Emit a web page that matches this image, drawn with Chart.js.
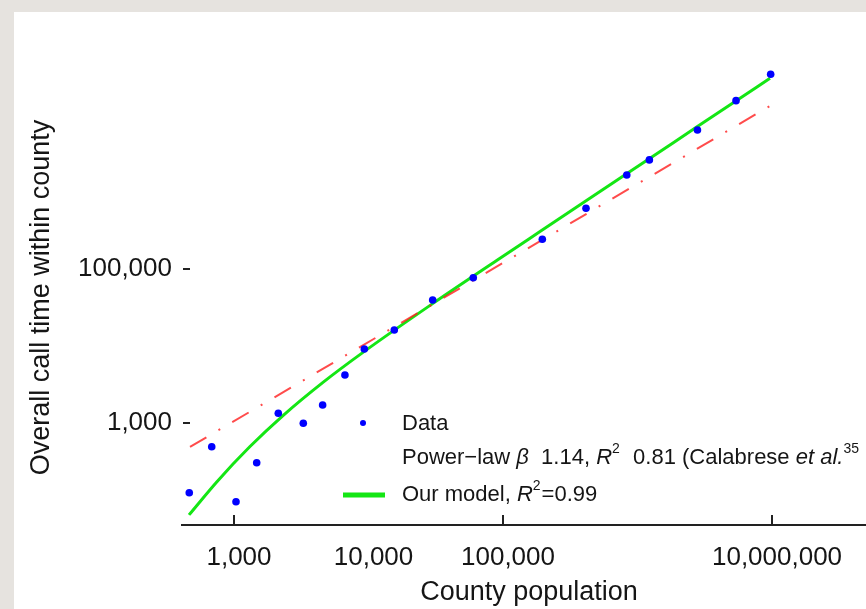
<!DOCTYPE html>
<html lang="en">
    <head>
        <meta charset="UTF-8">
        <title>County population vs overall call time</title>
        <script src="https://cdn.jsdelivr.net/npm/chart.js"></script>
        <style>
            html, body {
                margin: 0;
                width: 866px;
                height: 609px;
                overflow: hidden;
                background: #e6e3df;
            }
            .panel {
                position: absolute;
                left: 14px;
                top: 12px;
                width: 880px;
                height: 597px;
                background: white;
            }
        </style>
    </head>
    <body>
        <div class="panel">
            <canvas id="callChart" width="880" height="597"></canvas>
        </div>
        <script>
            // values (log-log axes)
            const dataPop = [465, 683, 1035, 1475, 2135, 3275, 4560, 6680, 9310, 15550, 30000, 60100,
                196000, 414000, 832000, 1225000, 2790000, 5400000, 9770000];
            const dataCall = [124, 492, 95, 305, 1337, 991, 1713, 4200, 9140, 16150, 39500, 77100,
                243000, 614000, 1660000, 2610000, 6380000, 15350000, 33800000];

            const modelPop = [463, 747, 1315, 2314, 4588, 9101, 30170, 90250, 188400, 835500, 2770000, 9660000];
            const modelCall = [64, 173, 494, 1248, 3368, 8260, 35740, 129700, 306000, 1734000, 7010000, 30060000];

            const powerPop = [471, 9660000];
            const powerCall = [488, 13100000];

            const xTicks = [1000, 10000, 100000, 10000000];
            const xTickMarks = [1000, 100000, 10000000];
            const yTicks = [1000, 100000];

            const xTitle = 'County population';
            const yTitle = 'Overall call time within county';

            // legend rows: [text, style] where style i = italic, s = superscript
            const legendRows = [
                [['Data']],
                [['Power\u2212law '], ['\u03b2', 'i'], ['  1.14, '], ['R', 'i'], ['2', 's'], ['  0.81 (Calabrese '], ['et al.', 'i'], ['35', 's']],
                [['Our model, '], ['R', 'i'], ['2', 's'], ['=0.99']]
            ];

            const FONT = "'Liberation Sans', Arial, sans-serif";
            const ink = '#151515';

            function pts(xs, ys) {
                return xs.map(function(x, i) { return {x: x, y: ys[i]}; });
            }

            const tickMarks = {
                id: 'tickMarks',
                afterDraw(chart) {
                    const ctx = chart.ctx;
                    const xs = chart.scales.x, ys = chart.scales.y;
                    const area = chart.chartArea;
                    ctx.save();
                    ctx.strokeStyle = '#222';
                    ctx.lineWidth = 2;
                    xTickMarks.forEach(function(v) {
                        const px = Math.round(xs.getPixelForValue(v));
                        ctx.beginPath();
                        ctx.moveTo(px, area.bottom);
                        ctx.lineTo(px, area.bottom - 10);
                        ctx.stroke();
                    });
                    yTicks.forEach(function(v) {
                        const py = Math.round(ys.getPixelForValue(v));
                        ctx.beginPath();
                        ctx.moveTo(area.left + 1, py);
                        ctx.lineTo(area.left + 8, py);
                        ctx.stroke();
                    });
                    ctx.restore();
                }
            };

            const innerLegend = {
                id: 'innerLegend',
                afterDraw(chart) {
                    const ctx = chart.ctx;
                    const textX = 388;
                    const rowY = [412, 446, 483];
                    ctx.save();
                    ctx.textBaseline = 'middle';
                    ctx.fillStyle = ink;
                    legendRows.forEach(function(row, r) {
                        let x = textX;
                        row.forEach(function(seg) {
                            const style = seg[1] || '';
                            if (style === 's') {
                                ctx.font = '14px ' + FONT;
                                ctx.fillText(seg[0], x, rowY[r] - 9);
                            } else {
                                ctx.font = (style === 'i' ? 'italic ' : '') + '22px ' + FONT;
                                ctx.fillText(seg[0], x, rowY[r]);
                            }
                            x += ctx.measureText(seg[0]).width + (style === 's' ? 1 : 0);
                        });
                    });
                    // markers
                    ctx.fillStyle = '#0000ff';
                    ctx.beginPath();
                    ctx.arc(349, rowY[0] - 1, 3, 0, Math.PI * 2);
                    ctx.fill();
                    ctx.strokeStyle = '#14e614';
                    ctx.lineWidth = 5;
                    ctx.beginPath();
                    ctx.moveTo(329, rowY[2]);
                    ctx.lineTo(371, rowY[2]);
                    ctx.stroke();
                    ctx.restore();
                }
            };

            const ctx = document.getElementById('callChart').getContext('2d');
            const callChart = new Chart(ctx, {
                type: 'scatter',
                data: {
                    datasets: [{
                        label: 'Data',
                        data: pts(dataPop, dataCall),
                        showLine: false,
                        pointRadius: 3.8,
                        pointBackgroundColor: '#0000ff',
                        pointBorderWidth: 0
                    }, {
                        label: 'Power-law',
                        data: pts(powerPop, powerCall),
                        showLine: true,
                        pointRadius: 0,
                        borderColor: 'rgba(255, 30, 30, 0.8)',
                        borderWidth: 2,
                        borderDash: [19, 14, 2, 14]
                    }, {
                        label: 'Our model',
                        data: pts(modelPop, modelCall),
                        showLine: true,
                        pointRadius: 0,
                        borderColor: '#14e614',
                        borderWidth: 3,
                        cubicInterpolationMode: 'monotone'
                    }]
                },
                options: {
                    responsive: false,
                    animation: false,
                    devicePixelRatio: 1,
                    layout: {padding: {left: 0, top: 58, right: 18, bottom: 0}},
                    plugins: {legend: {display: false}, tooltip: {enabled: false}},
                    scales: {
                        x: {
                            type: 'logarithmic',
                            min: 410.6,
                            max: 59300000,
                            grid: {display: false},
                            border: {display: true, color: '#222', width: 2},
                            afterBuildTicks: function(s) { s.ticks = xTicks.map(function(v) { return {value: v}; }); },
                            afterFit: function(s) { s.height = 84; },
                            ticks: {
                                padding: 9,
                                labelOffset: 5,
                                color: ink,
                                maxRotation: 0,
                                autoSkip: false,
                                font: {family: FONT, size: 26},
                                callback: function(v) { return Number(v).toLocaleString('en-US'); }
                            },
                            title: {
                                display: true,
                                text: xTitle,
                                color: ink,
                                padding: {top: 0, bottom: 0},
                                font: {family: FONT, size: 27}
                            }
                        },
                        y: {
                            type: 'logarithmic',
                            min: 47.3,
                            max: 38400000,
                            grid: {display: false},
                            border: {display: false},
                            afterBuildTicks: function(s) { s.ticks = yTicks.map(function(v) { return {value: v}; }); },
                            afterFit: function(s) { s.width = 168; },
                            ticks: {
                                padding: 2,
                                color: ink,
                                autoSkip: false,
                                font: {family: FONT, size: 26},
                                callback: function(v) { return Number(v).toLocaleString('en-US'); }
                            },
                            title: {
                                display: true,
                                text: yTitle,
                                color: ink,
                                padding: {top: 11, bottom: 0},
                                font: {family: FONT, size: 27}
                            }
                        }
                    }
                },
                plugins: [tickMarks, innerLegend]
            });
        </script>
    </body>
</html>
